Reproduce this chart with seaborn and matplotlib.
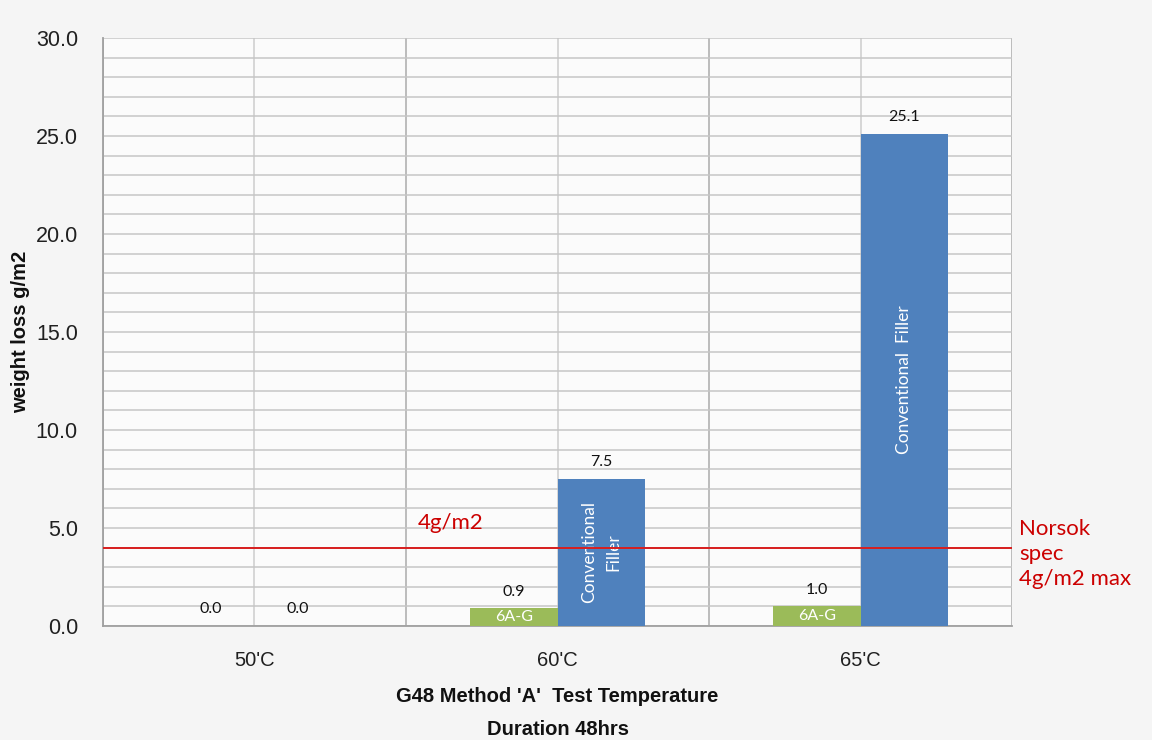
import matplotlib
matplotlib.use("Agg")
import matplotlib.pyplot as plt
from matplotlib.ticker import MultipleLocator, FixedLocator
import seaborn as sns
import pandas as pd

# Weight loss results, ASTM G48 Method A
temperatures = ["50'C", "60'C", "65'C"]
filler_names = ["6A-G", "Conventional Filler"]
loss_6ag = [0.0, 0.9, 1.0]
loss_conventional = [0.0, 7.5, 25.1]
inner_6ag = ["", "6A-G", "6A-G"]
inner_conventional = ["", "Conventional\nFiller", "Conventional  Filler"]
spec_limit = 4.0

df = pd.DataFrame({
    "temperature": temperatures * 2,
    "filler": [filler_names[0]] * 3 + [filler_names[1]] * 3,
    "loss": loss_6ag + loss_conventional,
})

sns.set_style("white")
plt.rcParams["font.family"] = ["Liberation Sans", "DejaVu Sans"]

fig = plt.figure(figsize=(11.52, 7.40), dpi=100, facecolor="#f5f5f5")
ax = fig.add_axes([0.0894, 0.1541, 0.7891, 0.7945])
ax.set_facecolor("#fbfbfb")

sns.barplot(data=df, x="temperature", y="loss", hue="filler",
            order=temperatures, hue_order=filler_names,
            palette=["#9BBB59", "#4F81BD"], width=0.575,
            saturation=1, legend=False, linewidth=0, ax=ax, zorder=3)

ax.set_xlim(-0.5, 2.5)
ax.set_ylim(0, 30)

# gridlines: every 1 g/m2 horizontally, category centres and boundaries vertically
ax.yaxis.set_major_locator(MultipleLocator(5))
ax.yaxis.set_minor_locator(MultipleLocator(1))
ax.yaxis.set_major_formatter(matplotlib.ticker.FormatStrFormatter("%.1f"))
ax.xaxis.set_minor_locator(FixedLocator([-0.5, 0.5, 1.5, 2.5]))
ax.grid(which="both", axis="y", color="#c6c6c6", linewidth=1.1, zorder=0)
ax.grid(which="major", axis="x", color="#cdcdcd", linewidth=1.1, zorder=0)
ax.grid(which="minor", axis="x", color="#ababab", linewidth=1.1, zorder=0)
ax.set_axisbelow(True)

for side in ("top", "right"):
    ax.spines[side].set_visible(False)
for side in ("left", "bottom"):
    ax.spines[side].set_color("#a0a0a0")
    ax.spines[side].set_linewidth(1.3)

ax.tick_params(axis="y", which="major", direction="out", length=7, width=1.2,
               color="#a0a0a0", labelsize=15.5, labelcolor="#202020", pad=11)
ax.tick_params(axis="y", which="minor", length=0)
ax.tick_params(axis="x", which="major", length=0, labelsize=14.5,
               labelcolor="#202020", pad=18)
ax.tick_params(axis="x", which="minor", direction="out", length=8, width=1.2,
               color="#a0a0a0")

ax.set_ylabel("weight loss g/m2", fontsize=14.5, fontweight="bold",
              color="#111111", labelpad=4)
ax.set_xlabel("G48 Method 'A'  Test Temperature\nDuration 48hrs",
              fontsize=14.5, fontweight="bold", color="#111111",
              linespacing=1.95, labelpad=12)

# value labels above bars and names inside bars
label_font = ["Lato", "DejaVu Sans"]
green_bars, blue_bars = ax.containers[0], ax.containers[1]
for cont, vals in ((green_bars, loss_6ag), (blue_bars, loss_conventional)):
    ax.bar_label(cont, labels=[f"{v:.1f}" for v in vals], padding=7,
                 fontsize=11.5, color="#111111", family=label_font)
ax.bar_label(green_bars, labels=inner_6ag, label_type="center",
             fontsize=11.5, color="white", family=label_font)
ax.bar_label(blue_bars, labels=inner_conventional, label_type="center",
             rotation=90, fontsize=12.5, color="white", family=label_font,
             linespacing=1.65)

# Norsok limit line
ax.axhline(spec_limit, color="#d81e1e", linewidth=1.4, zorder=4)
ax.text(0.54, spec_limit + 0.75, "4g/m2", color="#cc0000", fontsize=16,
        family=label_font, va="bottom", ha="left")
ax.text(1.008, spec_limit + 1.45, "Norsok\nspec\n4g/m2 max",
        transform=ax.get_yaxis_transform(), color="#cc0000", fontsize=16,
        family=label_font, va="top", ha="left", linespacing=1.3)

fig.savefig("out.png", dpi=100, facecolor=fig.get_facecolor())
